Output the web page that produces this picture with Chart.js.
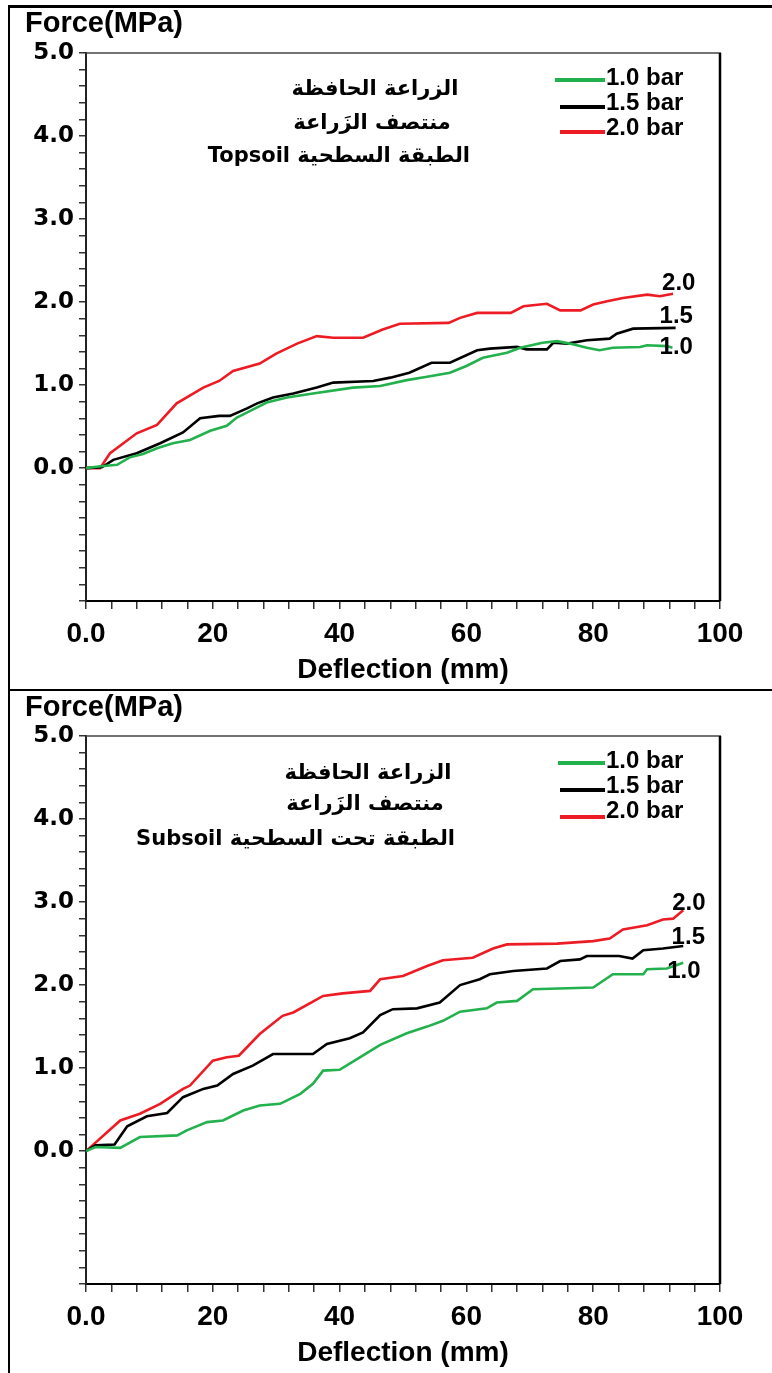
<!DOCTYPE html>
<html>
<head>
<meta charset="utf-8">
<script src="https://cdn.jsdelivr.net/npm/chart.js@4.4.1/dist/chart.umd.min.js"></script>
<style>
  body { margin: 0; background: #fff; width: 772px; height: 1373px; position: relative; overflow: hidden;
         font-family: 'Liberation Sans', Arial, sans-serif; }
  .panel { position: absolute; left: 0; width: 772px; }
  .panel canvas { position: absolute; left: 0; top: 0; }
  .rule { position: absolute; background: #000; }
  .ylab { position: absolute; left: 25px; font: bold 29px 'Liberation Sans', Arial, sans-serif; line-height: 34px; }
  .ar { position: absolute; font: bold 21px 'DejaVu Sans', sans-serif; line-height: 30px; color: #000; white-space: nowrap; }
  .ar.c { width: 320px; text-align: center; }
  .ar.r { width: 420px; text-align: right; }
  .sw { position: absolute; height: 4px; }
  .lt { position: absolute; left: 606px; font: bold 24px 'Liberation Sans', Arial, sans-serif; line-height: 26px; }
</style>
</head>
<body>

<div class="rule" style="left:8px; top:5px; width:764px; height:3px"></div>
<div class="rule" style="left:8px; top:5px; width:2px; height:1368px"></div>
<div class="rule" style="left:8px; top:689px; width:764px; height:2px"></div>

<div class="panel" id="p1" style="top:0; height:690px">
  <canvas id="c1" width="772" height="690"></canvas>
  <div class="ylab" style="top:5px">Force(MPa)</div>
  <div class="ar c" dir="rtl" style="left:215px; top:73px">الزراعة الحافظة</div>
  <div class="ar c" dir="rtl" style="left:212px; top:107px">منتصف الزَراعة</div>
  <div class="ar r" dir="rtl" style="left:50px; top:140px">الطبقة السطحية Topsoil</div>
  <div class="sw" style="left:555px; top:78px; width:50px; background:#22b14c"></div>
  <div class="sw" style="left:560px; top:105px; width:45px; background:#000"></div>
  <div class="sw" style="left:560px; top:130px; width:45px; background:#ed1c24"></div>
  <div class="lt" style="top:64px">1.0 bar</div>
  <div class="lt" style="top:89px">1.5 bar</div>
  <div class="lt" style="top:114px">2.0 bar</div>
</div>

<div class="panel" id="p2" style="top:690px; height:683px">
  <canvas id="c2" width="772" height="683"></canvas>
  <div class="ylab" style="top:-1px">Force(MPa)</div>
  <div class="ar c" dir="rtl" style="left:208px; top:67px">الزراعة الحافظة</div>
  <div class="ar c" dir="rtl" style="left:205px; top:98px">منتصف الزَراعة</div>
  <div class="ar r" dir="rtl" style="left:35px; top:133px">الطبقة تحت السطحية Subsoil</div>
  <div class="sw" style="left:558px; top:71px; width:47px; background:#22b14c"></div>
  <div class="sw" style="left:560px; top:98px; width:45px; background:#000"></div>
  <div class="sw" style="left:560px; top:125px; width:45px; background:#ed1c24"></div>
  <div class="lt" style="top:57px">1.0 bar</div>
  <div class="lt" style="top:82px">1.5 bar</div>
  <div class="lt" style="top:107px">2.0 bar</div>
</div>

<script>
// ── Topsoil (painel de cima) ─────────────────────────────────────────────────
const topX10 = [0, 2, 4.9, 6.9, 9, 11.2, 13.7, 16.4, 19.6, 22.2, 23.8, 25.9, 28.5, 31.7, 35.8, 42.1, 46.4, 50.6, 53.8, 57.4, 60, 62.6, 66.4, 68.5, 72, 74.3, 76.3, 79, 81, 83.1, 87.4, 88.5, 91.6, 92.5];
const topY10 = [0, 0.02, 0.04, 0.13, 0.17, 0.24, 0.3, 0.34, 0.45, 0.51, 0.61, 0.69, 0.79, 0.85, 0.9, 0.97, 0.99, 1.06, 1.1, 1.15, 1.23, 1.33, 1.39, 1.45, 1.51, 1.53, 1.5, 1.45, 1.42, 1.45, 1.46, 1.48, 1.47, 1.45];
const topX15 = [0, 2.5, 4.3, 8, 11.7, 15.3, 18, 21, 22.7, 25.4, 27, 29.5, 32.7, 36.4, 39, 45.3, 48, 51, 54.5, 57.4, 61.7, 63.7, 68, 69.5, 72.7, 73.7, 75.9, 79, 82.6, 83.7, 86.3, 93];
const topY15 = [0, 0.01, 0.1, 0.18, 0.3, 0.43, 0.6, 0.63, 0.63, 0.72, 0.78, 0.85, 0.9, 0.97, 1.03, 1.05, 1.09, 1.15, 1.27, 1.27, 1.42, 1.44, 1.46, 1.43, 1.43, 1.51, 1.5, 1.54, 1.56, 1.62, 1.68, 1.69];
const topX20 = [0, 2.2, 3.8, 8, 11.2, 14.3, 18.5, 21, 23.2, 27.4, 30, 33.3, 36.4, 39, 43.7, 46.8, 49.5, 57.2, 59, 61.7, 67, 69, 72.7, 74.8, 78, 80, 82.2, 84.7, 88.5, 90.5, 92.6];
const topY20 = [0, 0, 0.18, 0.42, 0.52, 0.78, 0.97, 1.05, 1.17, 1.26, 1.38, 1.5, 1.59, 1.57, 1.57, 1.67, 1.74, 1.75, 1.81, 1.87, 1.87, 1.95, 1.98, 1.9, 1.9, 1.97, 2.01, 2.05, 2.09, 2.07, 2.1];

// ── Subsoil (painel de baixo) ────────────────────────────────────────────────
const subX10 = [0, 1.5, 5.4, 8.5, 14.4, 15.9, 19.1, 21.6, 24.8, 27.4, 30.6, 33.8, 35.8, 37.4, 40, 43.2, 46.4, 50.6, 53.8, 56.3, 59, 63.2, 64.8, 68, 70.5, 80, 83.1, 87.9, 88.5, 91.6, 94.2];
const subY10 = [0, 0.05, 0.04, 0.17, 0.19, 0.25, 0.35, 0.37, 0.49, 0.55, 0.57, 0.69, 0.81, 0.97, 0.98, 1.13, 1.28, 1.42, 1.5, 1.57, 1.68, 1.72, 1.79, 1.81, 1.95, 1.97, 2.13, 2.13, 2.19, 2.2, 2.27];
const subX15 = [0, 1.5, 4.5, 6.5, 9.6, 12.8, 15.3, 18.5, 20.7, 23.2, 26.3, 29.5, 35.8, 38, 41.6, 43.7, 46.4, 48.4, 52.2, 55.8, 59, 62.1, 63.7, 67.4, 72.7, 74.8, 77.9, 79, 84.1, 86.2, 87.9, 91, 94.2];
const subY15 = [0, 0.07, 0.08, 0.3, 0.42, 0.46, 0.65, 0.75, 0.79, 0.93, 1.03, 1.17, 1.17, 1.29, 1.36, 1.43, 1.64, 1.71, 1.72, 1.79, 2.0, 2.07, 2.13, 2.17, 2.2, 2.29, 2.31, 2.35, 2.35, 2.32, 2.42, 2.44, 2.47];
const subX20 = [0, 5.4, 8.5, 11.7, 15.3, 16.4, 20, 22.2, 24.1, 27.4, 31, 32.7, 37.4, 40.5, 44.8, 46.4, 50, 53.8, 56.3, 61, 64.2, 66.4, 74.3, 80, 82.6, 84.7, 88.5, 91, 92.6, 94.2];
const subY20 = [0, 0.37, 0.45, 0.57, 0.75, 0.79, 1.09, 1.13, 1.15, 1.41, 1.63, 1.67, 1.87, 1.9, 1.93, 2.07, 2.11, 2.23, 2.3, 2.33, 2.44, 2.49, 2.5, 2.53, 2.56, 2.67, 2.72, 2.79, 2.8, 2.9];

// rótulos no fim das curvas (posição em unidades dos dados)
const endText    = ['2.0', '1.5', '1.0'];
const topLabelX  = [93.5, 93.1, 93.1];
const topLabelY  = [2.23, 1.83, 1.45];
const subLabelX  = [95.1, 95.0, 94.3];
const subLabelY  = [2.99, 2.57, 2.17];

const GREEN = '#22b14c';
const RED   = '#ed1c24';
const BLACK = '#000000';

const pts = (xs, ys) => xs.map((x, i) => ({ x, y: ys[i] }));

function series(xs, ys, color) {
  return {
    data: pts(xs, ys),
    borderColor: color,
    backgroundColor: color,
    borderWidth: 2.6,
    pointRadius: 0,
    tension: 0,
    fill: false,
  };
}

// moldura do gráfico + rótulos 2.0/1.5/1.0
const boxPlugin = {
  id: 'box',
  afterDraw(chart, args, opts) {
    const { ctx, chartArea: a, scales } = chart;
    ctx.save();
    ctx.strokeStyle = '#444';
    ctx.lineWidth = 1.5;
    ctx.beginPath(); ctx.moveTo(a.left, a.top); ctx.lineTo(a.right + 1, a.top); ctx.stroke();
    ctx.strokeStyle = '#000';
    ctx.lineWidth = 2.5;
    ctx.beginPath(); ctx.moveTo(a.right, a.top); ctx.lineTo(a.right, a.bottom); ctx.stroke();

    ctx.fillStyle = '#000';
    ctx.font = "bold 24px 'Liberation Sans', Arial, sans-serif";
    ctx.textAlign = 'center';
    ctx.textBaseline = 'middle';
    opts.text.forEach((t, i) => {
      ctx.fillText(t, scales.x.getPixelForValue(opts.xs[i]), scales.y.getPixelForValue(opts.ys[i]));
    });
    ctx.restore();
  },
};

function build(canvasId, datasets, padTop, areaBottom, lbl) {
  const canvas = document.getElementById(canvasId);
  const H = canvas.height;
  return new Chart(canvas, {
    type: 'line',
    data: { datasets },
    plugins: [boxPlugin],
    options: {
      responsive: false,
      animation: false,
      layout: { padding: { top: padTop, right: 52, left: 0, bottom: 0 } },
      plugins: {
        legend: { display: false },
        tooltip: { enabled: false },
        box: lbl,
      },
      scales: {
        x: {
          type: 'linear',
          min: 0, max: 100,
          ticks: {
            stepSize: 4,
            autoSkip: false,
            maxRotation: 0,
            padding: 8,
            color: '#000',
            font: { family: "'Liberation Sans', Arial, sans-serif", weight: 'bold', size: 28 },
            callback: v => {
              const r = Math.round(v);
              if (r % 20 !== 0) return '';
              return r === 0 ? '0.0' : String(r);
            },
          },
          grid: { drawOnChartArea: false, tickLength: 8, color: '#333', lineWidth: 1.5 },
          border: { color: '#000', width: 2 },
          title: {
            display: true,
            text: 'Deflection (mm)',
            color: '#000',
            font: { family: "'Liberation Sans', Arial, sans-serif", weight: 'bold', size: 28 },
            padding: { top: 0, bottom: 3 },
          },
          afterFit: s => { s.height = H - areaBottom; },
        },
        y: {
          min: -1.6, max: 5,
          ticks: {
            stepSize: 0.2,
            autoSkip: false,
            padding: 5,
            color: '#000',
            font: { family: "'DejaVu Sans', sans-serif", weight: 'bold', size: 23 },
            callback: v => {
              const r = Math.round(v);
              return (Math.abs(v - r) < 1e-6 && r >= 0) ? r.toFixed(1) : '';
            },
          },
          grid: { drawOnChartArea: false, tickLength: 7, color: '#333', lineWidth: 1.5 },
          border: { color: '#222', width: 2 },
          afterFit: s => { s.width = 86; },
        },
      },
    },
  });
}

build('c1', [
  series(topX10, topY10, GREEN),
  series(topX15, topY15, BLACK),
  series(topX20, topY20, RED),
], 53, 601, { text: endText, xs: topLabelX, ys: topLabelY });

build('c2', [
  series(subX10, subY10, GREEN),
  series(subX15, subY15, BLACK),
  series(subX20, subY20, RED),
], 46, 594, { text: endText, xs: subLabelX, ys: subLabelY });
</script>
</body>
</html>
